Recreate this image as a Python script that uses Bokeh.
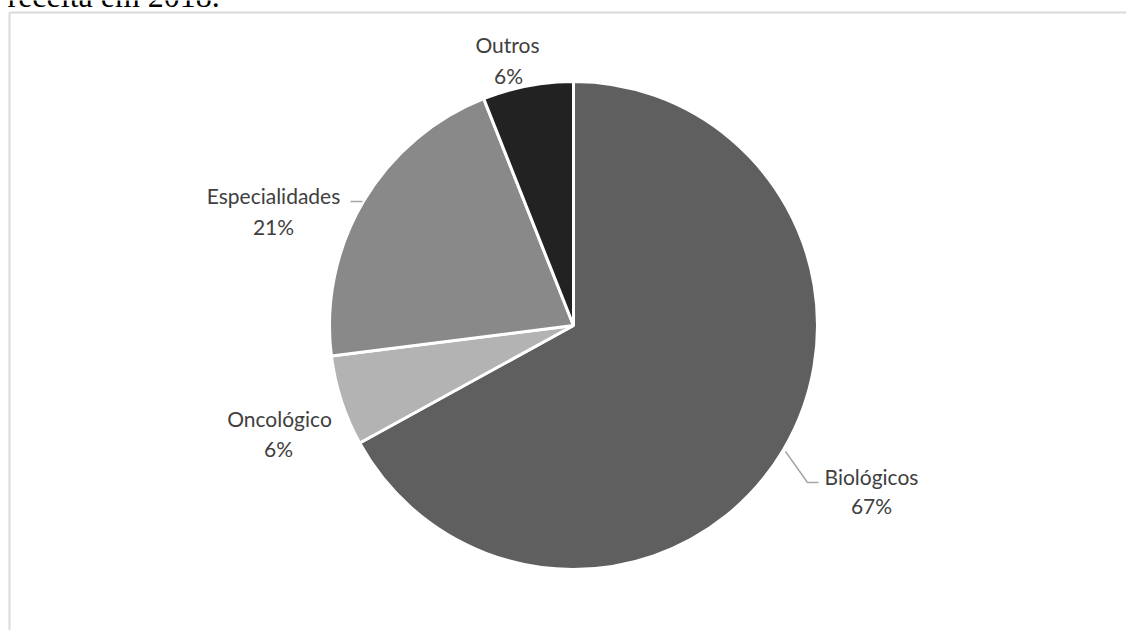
import math
from bokeh.plotting import figure
from bokeh.models import Range1d, ColumnDataSource
from bokeh.core.properties import value
from bokeh.embed import file_html
from bokeh.resources import INLINE

# ---- data ----
categories = ["Biológicos", "Oncológico", "Especialidades", "Outros"]
shares = [67, 6, 21, 6]
pct_labels = ["67%", "6%", "21%", "6%"]
colors = ["#5f5f5f", "#b3b3b3", "#898989", "#222222"]

# ---- layout (pixel positions, y measured from top) ----
W, H = 1126, 630
CX, CY, R = 573, 325, 244
label_name_pos = {"Biológicos": (871, 476), "Oncológico": (279, 418),
                  "Especialidades": (273, 195), "Outros": (507, 44)}
label_pct_pos = {"Biológicos": (871, 505), "Oncológico": (278, 448),
                 "Especialidades": (273, 226), "Outros": (508, 75)}
leaders = [[(350, 201), (362, 201)],
           [(818, 482), (807, 482), (785, 451)]]

def Y(y):
    return H - y

p = figure(width=W, height=H, output_backend="svg", toolbar_location=None,
           x_range=Range1d(0, W), y_range=Range1d(0, H), min_border=0)
p.axis.visible = False
p.grid.visible = False
p.outline_line_color = None
p.background_fill_color = "white"

# frame
p.segment(x0=[9, 9], y0=[Y(12), Y(12)], x1=[W, 9], y1=[Y(12), 0],
          line_color="#d9d9d9", line_width=2)

# title fragment (only its lower part shows at the top edge)
p.text(x=[7], y=[Y(13)], text=["receita em 2018."], text_font=value("Liberation Serif"),
       text_font_size="32px", text_color="#000000", text_baseline="bottom", text_align="left")

# wedges
total = sum(shares)
starts, ends = [], []
cum = 0.0
for s in shares:
    starts.append(math.pi / 2 - 2 * math.pi * cum / total)
    cum += s
    ends.append(math.pi / 2 - 2 * math.pi * cum / total)
src = ColumnDataSource(dict(cat=categories, start=starts, end=ends, color=colors))
p.wedge(x=CX, y=Y(CY), radius=R, start_angle="start", end_angle="end", direction="clock",
        fill_color="color", line_color="white", line_width=3, source=src)

# leader lines
for pts in leaders:
    p.line([a for a, b in pts], [Y(b) for a, b in pts], line_color="#a6a6a6", line_width=1.5)

# labels
p.text(x=[label_name_pos[c][0] for c in categories], y=[Y(label_name_pos[c][1]) for c in categories],
       text=categories, text_font=value("Lato"), text_font_size="21px", text_color="#404040",
       text_align="center", text_baseline="middle")
p.text(x=[label_pct_pos[c][0] for c in categories], y=[Y(label_pct_pos[c][1]) for c in categories],
       text=pct_labels, text_font=value("Lato"), text_font_size="21px", text_color="#404040",
       text_align="center", text_baseline="middle")

open("out.html", "w").write(file_html(p, INLINE))
